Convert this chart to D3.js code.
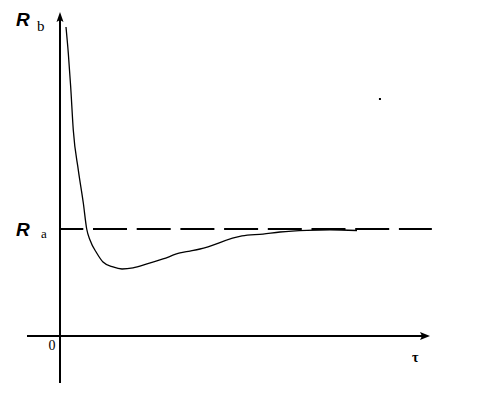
<!DOCTYPE html>
<html>
<head>
<meta charset="utf-8">
<script src="https://cdn.jsdelivr.net/npm/d3@7"></script>
<style>
  html, body { margin: 0; padding: 0; background: #fff; }
  svg { display: block; }
</style>
</head>
<body>
<svg id="chart" width="487" height="400"></svg>
<script>
// ---- data (tau, R); Ra = 1 ----
const tauValues = [0.162, 0.224, 0.289, 0.359, 0.495, 0.630, 0.722, 0.811, 0.992, 1.162, 1.432, 1.676, 1.973, 2.351, 2.784, 3.243, 3.514, 3.784, 4.919, 5.486, 5.946, 6.676, 7.297, 8.027];
const rValues   = [2.888, 2.645, 2.327, 1.925, 1.551, 1.243, 1.000, 0.897, 0.776, 0.692, 0.645, 0.626, 0.636, 0.673, 0.720, 0.776, 0.794, 0.813, 0.935, 0.953, 0.972, 0.988, 0.993, 0.986];
const raValue = 1;
const tickLabels = ["0"];
const axisLabels = { x: "τ" };

const svg = d3.select("#chart");
const x = d3.scaleLinear().domain([0, 10]).range([60, 430]);
const y = d3.scaleLinear().domain([0, 1]).range([336, 229]);

// axes
svg.append("line")
  .attr("x1", x(-0.892)).attr("x2", x(10) - 6)
  .attr("y1", y(0)).attr("y2", y(0))
  .attr("stroke", "#000").attr("stroke-width", 2);
svg.append("line")
  .attr("x1", x(0)).attr("x2", x(0))
  .attr("y1", y(-0.44)).attr("y2", y(3.028) + 6)
  .attr("stroke", "#000").attr("stroke-width", 2);

// arrow heads
const ax = x(10), ay = y(0);
svg.append("path")
  .attr("d", `M${ax},${ay} L${ax - 10},${ay - 4} L${ax - 8},${ay} L${ax - 10},${ay + 4} Z`)
  .attr("fill", "#000");
const tx = x(0), ty = y(3.028);
svg.append("path")
  .attr("d", `M${tx},${ty} L${tx - 3.5},${ty + 10} L${tx},${ty + 8} L${tx + 3.5},${ty + 10} Z`)
  .attr("fill", "#000");

// dashed Ra line
svg.append("line")
  .attr("x1", x(0)).attr("x2", x(10.05))
  .attr("y1", y(raValue)).attr("y2", y(raValue))
  .attr("stroke", "#000").attr("stroke-width", 2)
  .attr("stroke-dasharray", "34,9.7")
  .attr("stroke-dashoffset", 10.7);

// curve
const pts = tauValues.map((t, i) => [t, rValues[i]]);
svg.append("path")
  .datum(pts)
  .attr("d", d3.line().x(d => x(d[0])).y(d => y(d[1])).curve(d3.curveMonotoneX))
  .attr("fill", "none").attr("stroke", "#000").attr("stroke-width", 1.3);

// labels
svg.append("text").attr("x", 16).attr("y", 26)
  .attr("font-family", "Liberation Sans, Arial, sans-serif").attr("font-size", 19)
  .attr("font-weight", "bold").attr("font-style", "italic").text("R");
svg.append("text").attr("x", 37).attr("y", 31)
  .attr("font-family", "Liberation Serif, Times New Roman, serif").attr("font-size", 15)
  .text("b");
svg.append("text").attr("x", 16).attr("y", 236)
  .attr("font-family", "Liberation Sans, Arial, sans-serif").attr("font-size", 19)
  .attr("font-weight", "bold").attr("font-style", "italic").text("R");
svg.append("text").attr("x", 41).attr("y", 238)
  .attr("font-family", "Liberation Serif, Times New Roman, serif").attr("font-size", 13)
  .text("a");
svg.append("text").attr("x", x(0) - 8).attr("y", y(0) + 14)
  .attr("text-anchor", "middle")
  .attr("font-family", "Liberation Serif, Times New Roman, serif").attr("font-size", 14)
  .text(tickLabels[0]);
svg.append("text").attr("x", x(9.6)).attr("y", 362)
  .attr("text-anchor", "middle")
  .attr("font-family", "Liberation Serif, Times New Roman, serif").attr("font-size", 14)
  .attr("font-weight", "bold")
  .text(axisLabels.x);

// small stray dot in the picture
svg.append("rect").attr("x", x(8.62)).attr("y", 98).attr("width", 2).attr("height", 2).attr("fill", "#000");
</script>
</body>
</html>
